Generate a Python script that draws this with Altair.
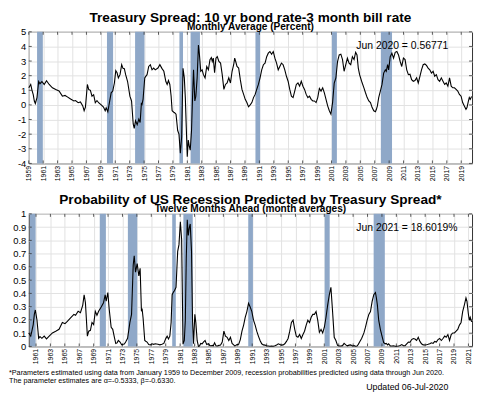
import altair as alt
import pandas as pd

# ---- Treasury spread (10y - 3m), monthly average, percent ----
spread_year = [
    1959.0, 1959.15, 1959.27, 1959.45, 1959.62, 1959.77, 1959.91, 1960.14, 1960.37, 1960.55,
    1960.82, 1961.14, 1961.46, 1961.83, 1962.28, 1962.74, 1963.2, 1963.66, 1964.03, 1964.35,
    1964.8, 1965.26, 1965.49, 1965.85, 1966.17, 1966.49, 1966.68, 1966.86, 1967.13, 1967.32,
    1967.55, 1967.77, 1968.0, 1968.23, 1968.46, 1968.69, 1969.05, 1969.37, 1969.6, 1969.74,
    1969.97, 1970.15, 1970.43, 1970.65, 1970.88, 1971.07, 1971.25, 1971.43, 1971.66, 1971.89,
    1972.07, 1972.26, 1972.44, 1972.71, 1973.03, 1973.26, 1973.49, 1973.63, 1973.81, 1974.04,
    1974.27, 1974.45, 1974.63, 1974.72, 1974.86, 1975.09, 1975.23, 1975.41, 1975.64, 1975.87,
    1976.1, 1976.33, 1976.55, 1976.92, 1977.19, 1977.47, 1977.74, 1978.02, 1978.2, 1978.38,
    1978.57, 1978.75, 1978.89, 1979.11, 1979.21, 1979.43, 1979.66, 1979.84, 1980.03, 1980.21,
    1980.4, 1980.58, 1980.72, 1980.85, 1980.99, 1981.13, 1981.26, 1981.4, 1981.58, 1981.72,
    1981.86, 1982.04, 1982.18, 1982.36, 1982.54, 1982.68, 1982.86, 1983.05, 1983.23, 1983.46,
    1983.69, 1983.92, 1984.14, 1984.33, 1984.46, 1984.6, 1984.78, 1984.97, 1985.15, 1985.38,
    1985.61, 1985.84, 1986.07, 1986.29, 1986.52, 1986.75, 1986.98, 1987.21, 1987.43, 1987.57,
    1987.71, 1987.89, 1988.12, 1988.35, 1988.58, 1988.81, 1989.03, 1989.26, 1989.49, 1989.72,
    1989.95, 1990.18, 1990.41, 1990.63, 1990.86, 1991.09, 1991.32, 1991.55, 1991.78, 1992.01,
    1992.23, 1992.46, 1992.69, 1992.92, 1993.15, 1993.38, 1993.61, 1993.83, 1994.06, 1994.29,
    1994.52, 1994.75, 1994.98, 1995.21, 1995.44, 1995.67, 1995.9, 1996.12, 1996.35, 1996.58,
    1996.81, 1997.04, 1997.26, 1997.49, 1997.72, 1997.95, 1998.18, 1998.41, 1998.63, 1998.86,
    1999.09, 1999.32, 1999.55, 1999.78, 2000.01, 2000.24, 2000.47, 2000.7, 2000.92, 2001.15,
    2001.38, 2001.61, 2001.84, 2002.07, 2002.3, 2002.53, 2002.75, 2002.98, 2003.21, 2003.44,
    2003.67, 2003.9, 2004.13, 2004.35, 2004.54, 2004.72, 2004.9, 2005.18, 2005.5, 2005.72,
    2005.95, 2006.18, 2006.41, 2006.64, 2006.87, 2007.1, 2007.23, 2007.37, 2007.55, 2007.78,
    2008.01, 2008.24, 2008.47, 2008.6, 2008.79, 2008.93, 2009.15, 2009.38, 2009.61, 2009.84,
    2010.07, 2010.3, 2010.53, 2010.75, 2010.98, 2011.21, 2011.44, 2011.67, 2011.89, 2012.12,
    2012.35, 2012.58, 2012.81, 2013.04, 2013.27, 2013.49, 2013.72, 2013.95, 2014.18, 2014.41,
    2014.64, 2014.87, 2015.1, 2015.32, 2015.55, 2015.78, 2016.01, 2016.24, 2016.47, 2016.7,
    2016.92, 2017.15, 2017.38, 2017.61, 2017.83, 2018.06, 2018.29, 2018.52, 2018.75, 2018.98,
    2019.2, 2019.43, 2019.66, 2019.8, 2019.98, 2020.12, 2020.25, 2020.44,
]
spread_val = [
    1.17, 1.3, 1.4, 1.0, 0.7, 0.27, 0.1, 0.5, 1.6, 1.45,
    1.6, 1.4, 1.65, 1.4, 1.17, 1.05, 0.95, 0.6, 0.65, 0.55,
    0.4, 0.27, 0.3, 0.15, 0.2, -0.07, -0.4, -0.15, 1.4, 1.05,
    1.0, 0.6, 0.7, 0.15, 0.3, 0.15, 0.0, -0.15, -0.4, -0.2,
    -0.47, 0.05, 0.83, 0.95, 1.5, 2.35, 2.2, 1.85, 2.07, 2.75,
    2.5, 2.48, 2.07, 1.6, 0.6, 0.27, -1.3, -1.6, -1.08, -1.35,
    -0.97, -1.2, 0.15, 0.05, 0.4, 1.85, 1.95, 2.07, 2.63, 2.75,
    2.4, 2.52, 2.4, 2.52, 2.75, 2.5, 2.3, 1.6, 1.4, 1.67,
    1.4, 0.6, -0.4, -0.5, -0.52, -0.63, -1.75, -2.0, -3.3, -2.2,
    2.5, 1.85, 0.5, -1.5, -3.55, -2.4, -2.8, -3.1, -1.75, 0.5,
    2.4, 0.27, 0.6, 1.85, 4.1, 3.42, 2.3, 2.4, 2.07, 1.85,
    2.63, 2.4, 3.1, 3.24, 2.97, 3.2, 2.2, 3.2, 3.3, 2.97,
    2.86, 2.07, 1.06, 1.4, 1.5, 1.85, 1.5, 2.3, 2.75, 3.2,
    2.97, 2.63, 2.52, 1.73, 1.06, 0.72, 0.38, 0.16, -0.13, 0.0,
    0.16, 0.5, 0.72, 1.06, 1.4, 1.85, 2.4, 2.75, 2.86, 3.3,
    3.54, 3.65, 3.47, 3.65, 3.2, 2.86, 2.4, 2.63, 2.86, 2.75,
    2.4, 1.96, 1.62, 1.06, 0.6, 0.5, 0.95, 1.4, 1.5, 1.28,
    1.62, 1.28, 1.06, 0.72, 0.5, 0.6, 0.38, 0.27, 0.27, 0.16,
    0.5, 1.13, 0.95, 1.17, 0.83, 0.38, -0.07, -0.4, -0.63, 0.16,
    1.5, 1.85, 2.97, 3.42, 3.47, 3.1, 2.3, 2.75, 3.2, 2.86,
    2.75, 3.3, 3.1, 3.6, 3.42, 2.52, 2.07, 1.62, 1.17, 0.83,
    0.5, 0.27, 0.16, -0.18, -0.4, -0.47, -0.3, -0.07, 0.5, 0.95,
    1.4, 2.18, 2.4, 2.3, 2.75, 2.4, 3.3, 3.54, 3.2, 3.6,
    3.65, 3.42, 2.97, 2.63, 3.2, 3.1, 2.4, 2.07, 2.1, 1.73,
    1.62, 1.67, 1.85, 1.5, 1.96, 2.4, 2.75, 2.8, 2.7, 2.52,
    2.4, 2.18, 2.3, 1.96, 2.07, 1.73, 1.62, 1.85, 1.62, 1.4,
    1.5, 1.28, 1.85, 1.28, 1.17, 1.17, 1.06, 0.95, 0.72, 0.6,
    0.16, -0.07, -0.3, -0.18, 0.22, 0.5, 0.38, 0.57,
]

# ---- Recession probability twelve months ahead ----
prob_year = [
    1960.0, 1960.15, 1960.27, 1960.45, 1960.62, 1960.77, 1960.91, 1961.14, 1961.37, 1961.55,
    1961.82, 1962.14, 1962.46, 1962.83, 1963.28, 1963.74, 1964.2, 1964.66, 1965.03, 1965.35,
    1965.8, 1966.26, 1966.49, 1966.85, 1967.17, 1967.49, 1967.68, 1967.86, 1968.13, 1968.32,
    1968.55, 1968.77, 1969.0, 1969.23, 1969.46, 1969.69, 1970.05, 1970.37, 1970.6, 1970.74,
    1970.97, 1971.15, 1971.43, 1971.65, 1971.88, 1972.07, 1972.25, 1972.43, 1972.66, 1972.89,
    1973.07, 1973.26, 1973.44, 1973.71, 1974.03, 1974.26, 1974.49, 1974.63, 1974.81, 1975.04,
    1975.27, 1975.45, 1975.63, 1975.72, 1975.86, 1976.09, 1976.23, 1976.41, 1976.64, 1976.87,
    1977.1, 1977.33, 1977.55, 1977.92, 1978.19, 1978.47, 1978.74, 1979.02, 1979.2, 1979.38,
    1979.57, 1979.75, 1979.89, 1980.11, 1980.21, 1980.43, 1980.66, 1980.84, 1981.03, 1981.21,
    1981.4, 1981.58, 1981.72, 1981.85, 1981.99, 1982.13, 1982.26, 1982.4, 1982.58, 1982.72,
    1982.86, 1983.04, 1983.18, 1983.36, 1983.54, 1983.68, 1983.86, 1984.05, 1984.23, 1984.46,
    1984.69, 1984.92, 1985.14, 1985.33, 1985.46, 1985.6, 1985.78, 1985.97, 1986.15, 1986.38,
    1986.61, 1986.84, 1987.07, 1987.29, 1987.52, 1987.75, 1987.98, 1988.21, 1988.43, 1988.57,
    1988.71, 1988.89, 1989.12, 1989.35, 1989.58, 1989.81, 1990.03, 1990.26, 1990.49, 1990.72,
    1990.95, 1991.18, 1991.41, 1991.63, 1991.86, 1992.09, 1992.32, 1992.55, 1992.78, 1993.01,
    1993.23, 1993.46, 1993.69, 1993.92, 1994.15, 1994.38, 1994.61, 1994.83, 1995.06, 1995.29,
    1995.52, 1995.75, 1995.98, 1996.21, 1996.44, 1996.67, 1996.9, 1997.12, 1997.35, 1997.58,
    1997.81, 1998.04, 1998.26, 1998.49, 1998.72, 1998.95, 1999.18, 1999.41, 1999.63, 1999.86,
    2000.09, 2000.32, 2000.55, 2000.78, 2001.01, 2001.24, 2001.47, 2001.7, 2001.92, 2002.15,
    2002.38, 2002.61, 2002.84, 2003.07, 2003.3, 2003.53, 2003.75, 2003.98, 2004.21, 2004.44,
    2004.67, 2004.9, 2005.13, 2005.35, 2005.54, 2005.72, 2005.9, 2006.18, 2006.5, 2006.72,
    2006.95, 2007.18, 2007.41, 2007.64, 2007.87, 2008.1, 2008.23, 2008.37, 2008.55, 2008.78,
    2009.01, 2009.24, 2009.47, 2009.6, 2009.79, 2009.93, 2010.15, 2010.38, 2010.61, 2010.84,
    2011.07, 2011.3, 2011.53, 2011.75, 2011.98, 2012.21, 2012.44, 2012.67, 2012.89, 2013.12,
    2013.35, 2013.58, 2013.81, 2014.04, 2014.27, 2014.49, 2014.72, 2014.95, 2015.18, 2015.41,
    2015.64, 2015.87, 2016.1, 2016.32, 2016.55, 2016.78, 2017.01, 2017.24, 2017.47, 2017.7,
    2017.92, 2018.15, 2018.38, 2018.61, 2018.83, 2019.06, 2019.29, 2019.52, 2019.75, 2019.98,
    2020.2, 2020.43, 2020.66, 2020.8, 2020.98, 2021.12, 2021.25, 2021.44,
]
prob_val = [
    0.102, 0.088, 0.078, 0.122, 0.165, 0.242, 0.275, 0.198, 0.061, 0.074,
    0.061, 0.078, 0.057, 0.078, 0.102, 0.115, 0.129, 0.181, 0.172, 0.189,
    0.215, 0.242, 0.235, 0.265, 0.255, 0.312, 0.39, 0.33, 0.078, 0.115,
    0.122, 0.181, 0.165, 0.265, 0.235, 0.265, 0.297, 0.33, 0.39, 0.342,
    0.407, 0.286, 0.145, 0.129, 0.069, 0.022, 0.027, 0.045, 0.033, 0.012,
    0.017, 0.018, 0.033, 0.061, 0.181, 0.242, 0.614, 0.684, 0.56, 0.625,
    0.532, 0.589, 0.265, 0.286, 0.215, 0.045, 0.039, 0.033, 0.014, 0.012,
    0.02, 0.016, 0.02, 0.016, 0.012, 0.017, 0.023, 0.061, 0.078, 0.056,
    0.078, 0.181, 0.39, 0.414, 0.42, 0.446, 0.717, 0.768, 0.94, 0.805,
    0.017, 0.045, 0.198, 0.661, 0.956, 0.838, 0.892, 0.924, 0.717, 0.198,
    0.02, 0.242, 0.181, 0.045, 0.001, 0.003, 0.023, 0.02, 0.033, 0.045,
    0.014, 0.02, 0.006, 0.005, 0.008, 0.005, 0.027, 0.005, 0.004, 0.008,
    0.01, 0.033, 0.115, 0.078, 0.069, 0.045, 0.069, 0.023, 0.012, 0.005,
    0.008, 0.014, 0.016, 0.052, 0.115, 0.161, 0.22, 0.263, 0.326, 0.297,
    0.263, 0.198, 0.161, 0.115, 0.078, 0.045, 0.02, 0.012, 0.01, 0.004,
    0.003, 0.002, 0.003, 0.002, 0.005, 0.01, 0.02, 0.014, 0.01, 0.012,
    0.02, 0.038, 0.06, 0.115, 0.181, 0.198, 0.129, 0.078, 0.069, 0.09,
    0.06, 0.09, 0.115, 0.161, 0.198, 0.181, 0.22, 0.242, 0.242, 0.263,
    0.198, 0.106, 0.129, 0.102, 0.145, 0.22, 0.312, 0.39, 0.446, 0.263,
    0.069, 0.045, 0.008, 0.003, 0.003, 0.006, 0.023, 0.012, 0.005, 0.01,
    0.012, 0.004, 0.006, 0.002, 0.003, 0.016, 0.033, 0.06, 0.102, 0.145,
    0.198, 0.242, 0.263, 0.34, 0.39, 0.407, 0.366, 0.312, 0.198, 0.129,
    0.078, 0.028, 0.02, 0.023, 0.012, 0.02, 0.004, 0.003, 0.005, 0.002,
    0.002, 0.003, 0.008, 0.014, 0.005, 0.006, 0.02, 0.033, 0.031, 0.052,
    0.06, 0.056, 0.045, 0.069, 0.038, 0.02, 0.012, 0.011, 0.013, 0.016,
    0.02, 0.028, 0.023, 0.038, 0.033, 0.052, 0.06, 0.045, 0.06, 0.078,
    0.069, 0.09, 0.045, 0.09, 0.102, 0.102, 0.115, 0.129, 0.161, 0.181,
    0.263, 0.312, 0.366, 0.34, 0.25, 0.198, 0.22, 0.186,
]

# ---- NBER recessions (as drawn) ----
rec_start = [1960.15, 1969.85, 1973.75, 1979.9, 1981.45, 1990.45, 2001.05, 2007.85]
rec_end = [1960.95, 1970.7, 1975.05, 1980.4, 1982.75, 1991.1, 2001.75, 2009.4]

top_ticks = [1959, 1961, 1963, 1965, 1967, 1969, 1971, 1973, 1975, 1977, 1979, 1981,
             1983, 1985, 1987, 1989, 1991, 1993, 1995, 1997, 1999, 2001, 2003, 2005,
             2007, 2009, 2011, 2013, 2015, 2017, 2019]
bot_ticks = [1961, 1963, 1965, 1967, 1969, 1971, 1973, 1975, 1977, 1979, 1981, 1983,
             1985, 1987, 1989, 1991, 1993, 1995, 1997, 1999, 2001, 2003, 2005, 2007,
             2009, 2011, 2013, 2015, 2017, 2019, 2021]
top_yticks = [-4, -3, -2, -1, 0, 1, 2, 3, 4, 5]
bot_yticks = [0, 0.1, 0.2, 0.3, 0.4, 0.5, 0.6, 0.7, 0.8, 0.9, 1]

titles = ["Treasury Spread: 10 yr bond rate-3 month bill rate",
          "Probability of US Recession Predicted by Treasury Spread*"]
subtitles = ["Monthly Average (Percent)", "Twelve Months Ahead (month averages)"]
notes = ["Jun 2020 = 0.56771", "Jun 2021 = 18.6019%"]
footnotes = [
    "*Parameters estimated using data from January 1959 to December 2009, recession probabilities predicted using data through Jun 2020.",
    "The parameter estimates are \u03b1=-0.5333, \u03b2=-0.6330.",
]
updated_text = "Updated 06-Jul-2020"

FONT = "Liberation Sans"
BAND = "#8FA8C8"
GRID = "#E2E2E2"
FRAME = "#333333"
W = 448

spread_df = pd.DataFrame({"year": spread_year, "val": spread_val})
prob_df = pd.DataFrame({"year": prob_year, "val": prob_val})
rec_df = pd.DataFrame({"start": rec_start, "end": rec_end})


def text_layer(s, x, y, size, bold=False, align="left"):
    return alt.Chart(pd.DataFrame({"t": [s]})).mark_text(
        align=align, baseline="middle", fontSize=size, font=FONT, color="black",
        fontWeight="bold" if bold else "normal",
    ).encode(x=alt.value(x), y=alt.value(y), text="t:N")


def panel(df, xdom, xticks, ydom, yticks, h, ann, title, subtitle, extra=None):
    xs = alt.Scale(domain=xdom, nice=False, zero=False)
    ys = alt.Scale(domain=ydom, nice=False, zero=False)
    xaxis = alt.Axis(values=xticks, labelAngle=270, labelFontSize=7, labelFont=FONT,
                     labelColor="black", grid=True, gridColor=GRID, tickSize=0,
                     labelPadding=2, domain=False, title=None, labelExpr="datum.value + ''",
                     labelOverlap=False, labelBound=False)
    yaxis = alt.Axis(values=yticks, labelFontSize=9.5, labelFont=FONT, labelColor="black",
                     grid=True, gridColor=GRID, tickSize=0, labelPadding=3, domain=False,
                     title=None, labelExpr="datum.value + ''", labelOverlap=False)
    bands = alt.Chart(rec_df).mark_rect(color=BAND).encode(
        x=alt.X("start:Q", scale=xs, axis=xaxis),
        x2="end:Q",
        y=alt.value(0),
        y2=alt.value(h),
    )
    xt = pd.DataFrame({"t": xticks})
    yt = pd.DataFrame({"t": yticks})
    tick_top = alt.Chart(xt).mark_rule(color=FRAME, strokeWidth=0.8).encode(
        x=alt.X("t:Q", scale=xs, axis=xaxis), y=alt.value(0), y2=alt.value(3))
    tick_bot = alt.Chart(xt).mark_rule(color=FRAME, strokeWidth=0.8).encode(
        x=alt.X("t:Q", scale=xs, axis=xaxis), y=alt.value(h - 3), y2=alt.value(h))
    tick_left = alt.Chart(yt).mark_rule(color=FRAME, strokeWidth=0.8).encode(
        y=alt.Y("t:Q", scale=ys, axis=yaxis), x=alt.value(0), x2=alt.value(3))
    tick_right = alt.Chart(yt).mark_rule(color=FRAME, strokeWidth=0.8).encode(
        y=alt.Y("t:Q", scale=ys, axis=yaxis), x=alt.value(W - 3), x2=alt.value(W))
    line = alt.Chart(df).mark_line(color="black", strokeWidth=1.1).encode(
        x=alt.X("year:Q", scale=xs, axis=xaxis),
        y=alt.Y("val:Q", scale=ys, axis=yaxis),
    )
    layers = [bands, tick_top, tick_bot, tick_left, tick_right, line,
              text_layer(ann, 331, 14, 10.5),
              text_layer(title, W / 2, -14, 13.75, bold=True, align="center"),
              text_layer(subtitle, W / 2, -5, 10.2, bold=True, align="center")]
    if extra is not None:
        layers += extra
    return alt.layer(*layers).properties(width=W, height=h)


foot_df = pd.DataFrame({"t": footnotes, "y": [161, 169]})
foot = alt.Chart(foot_df).mark_text(
    align="left", baseline="middle", fontSize=7.3, font=FONT, color="black"
).encode(x=alt.value(-20), y=alt.Y("y:Q", scale=None), text="t:N")
updated = text_layer(updated_text, 341, 175, 8.9)

top = panel(spread_df, [1959.0, 2020.5], top_ticks, [-4, 5], top_yticks,
            133, notes[0], titles[0], subtitles[0])
bottom = panel(prob_df, [1960.0, 2021.5], bot_ticks, [0, 1], bot_yticks,
               134, notes[1], titles[1], subtitles[1], extra=[foot, updated])

chart = alt.vconcat(top, bottom, spacing=51, bounds="flush").properties(
    padding={"left": 0, "top": 0, "right": 0, "bottom": 0}
).configure_view(stroke=FRAME, strokeWidth=1).resolve_scale(x="independent", y="independent")

chart.save("out.html", embed_options={"renderer": "svg", "actions": False})
